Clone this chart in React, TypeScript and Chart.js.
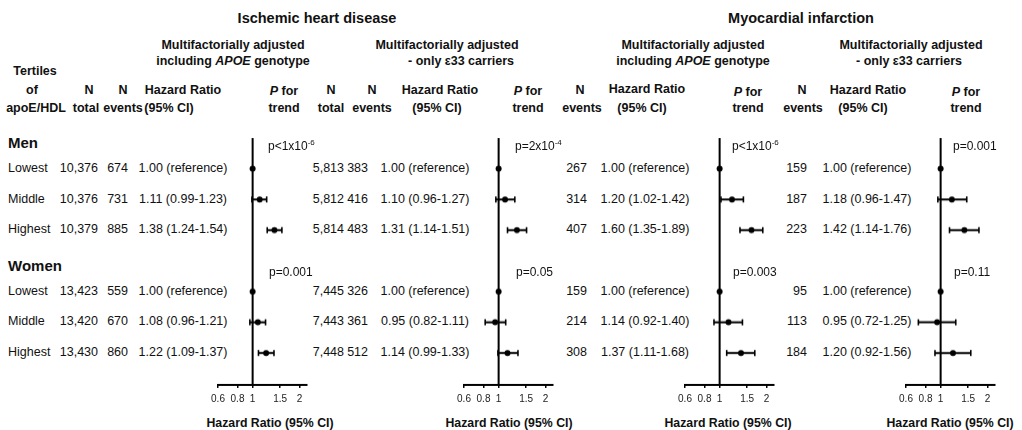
import React, { useEffect, useRef } from "react";
import { Chart, registerables } from "chart.js";

Chart.register(...registerables);

// ---------- data ----------
const TERTILES = ["Lowest", "Middle", "Highest"];
const SEXES = ["Men", "Women"];
const X_TICKS = [0.6, 0.8, 1, 1.5, 2];

// Ischemic heart disease, multifactorially adjusted including APOE genotype
const IHD_ALL_NTOTAL = [10376, 10376, 10379, 13423, 13420, 13430];
const IHD_ALL_NEVENTS = [674, 731, 885, 559, 670, 860];
const IHD_ALL_HR = [1.0, 1.11, 1.38, 1.0, 1.08, 1.22];
const IHD_ALL_LO = [null, 0.99, 1.24, null, 0.96, 1.09];
const IHD_ALL_HI = [null, 1.23, 1.54, null, 1.21, 1.37];
const IHD_ALL_P = ["p<1x10^-6", "p=0.001"];

// Ischemic heart disease, only ε33 carriers
const IHD_E33_NTOTAL = [5813, 5812, 5814, 7445, 7443, 7448];
const IHD_E33_NEVENTS = [383, 416, 483, 326, 361, 512];
const IHD_E33_HR = [1.0, 1.1, 1.31, 1.0, 0.95, 1.14];
const IHD_E33_LO = [null, 0.96, 1.14, null, 0.82, 0.99];
const IHD_E33_HI = [null, 1.27, 1.51, null, 1.11, 1.33];
const IHD_E33_P = ["p=2x10^-4", "p=0.05"];

// Myocardial infarction, multifactorially adjusted including APOE genotype
const MI_ALL_NEVENTS = [267, 314, 407, 159, 214, 308];
const MI_ALL_HR = [1.0, 1.2, 1.6, 1.0, 1.14, 1.37];
const MI_ALL_LO = [null, 1.02, 1.35, null, 0.92, 1.11];
const MI_ALL_HI = [null, 1.42, 1.89, null, 1.4, 1.68];
const MI_ALL_P = ["p<1x10^-6", "p=0.003"];

// Myocardial infarction, only ε33 carriers
const MI_E33_NEVENTS = [159, 187, 223, 95, 113, 184];
const MI_E33_HR = [1.0, 1.18, 1.42, 1.0, 0.95, 1.2];
const MI_E33_LO = [null, 0.96, 1.14, null, 0.72, 0.92];
const MI_E33_HI = [null, 1.47, 1.76, null, 1.25, 1.56];
const MI_E33_P = ["p=0.001", "p=0.11"];

// ---------- layout ----------
const FONT = '"Liberation Sans", Arial, Helvetica, sans-serif';
const ROW0_Y = 169;
const ROW_STEP = 30.67;
const Y_MIN = -1;
const Y_MAX = 7.04;
const X_MIN = 0.6;
const X_MAX = 2.23;
const PAD = 20;
const AXIS_W = 89;
const CANVAS_TOP = 128;
const AREA_TOP_PAD = 10;
const XAXIS_H = 24;
const CANVAS_H = AREA_TOP_PAD + (Y_MAX - Y_MIN) * ROW_STEP + XAXIS_H;

const rowIndex = (i: number) => (i < 3 ? i : i + 1);
const rowY = (i: number) => ROW0_Y + rowIndex(i) * ROW_STEP;
const fmtHR = (hr: number, lo: number | null, hi: number | null) =>
  lo == null || hi == null
    ? "1.00 (reference)"
    : `${hr.toFixed(2)} (${lo.toFixed(2)}-${hi.toFixed(2)})`;

type TxtProps = {
  x: number;
  y: number;
  align?: "left" | "center" | "right";
  size?: number;
  bold?: boolean;
  children: React.ReactNode;
};

function Txt({ x, y, align = "center", size = 12.5, bold = false, children }: TxtProps) {
  const tx = align === "center" ? "-50%" : align === "right" ? "-100%" : "0";
  return (
    <div
      style={{
        position: "absolute",
        left: x,
        top: y,
        transform: `translate(${tx}, -50%)`,
        fontSize: size,
        fontWeight: bold ? 700 : 400,
        lineHeight: 1,
        whiteSpace: "nowrap",
        color: "#111",
      }}
    >
      {children}
    </div>
  );
}

function PText({ s, x, y }: { s: string; x: number; y: number }) {
  const [base, exp] = s.split("^");
  return (
    <Txt x={x} y={y} align="left" size={12}>
      {base}
      {exp && (
        <span style={{ fontSize: 8, position: "relative", top: -5 }}>{exp}</span>
      )}
    </Txt>
  );
}

type PanelProps = {
  axisLeft: number;
  hr: number[];
  lo: (number | null)[];
  hi: (number | null)[];
};

function ForestPanel({ axisLeft, hr, lo, hi }: PanelProps) {
  const ref = useRef<HTMLCanvasElement>(null);
  const width = AXIS_W + 2 * PAD;

  useEffect(() => {
    if (!ref.current) return;
    const points = hr.map((v, i) => ({ x: v, y: rowIndex(i) }));
    const bars: any[] = [];
    hr.forEach((_, i) => {
      const l = lo[i];
      const h = hi[i];
      if (l == null || h == null) return;
      bars.push({
        data: [
          { x: l, y: rowIndex(i) },
          { x: h, y: rowIndex(i) },
        ],
        showLine: true,
        borderColor: "#000",
        borderWidth: 2,
        pointStyle: "line",
        pointRotation: 90,
        pointRadius: 3,
        pointBorderWidth: 1.6,
        pointBorderColor: "#000",
        pointHoverRadius: 3,
      });
    });

    const chart = new Chart(ref.current, {
      type: "scatter",
      data: {
        datasets: [
          {
            data: points,
            pointStyle: "circle",
            pointRadius: 3,
            pointBackgroundColor: "#000",
            pointBorderColor: "#000",
            pointBorderWidth: 0,
            showLine: false,
          },
          ...bars,
          {
            // line of no effect at HR = 1
            data: [
              { x: 1, y: Y_MIN },
              { x: 1, y: Y_MAX },
            ],
            showLine: true,
            borderColor: "#000",
            borderWidth: 2,
            pointRadius: 0,
          },
        ],
      },
      options: {
        animation: false,
        responsive: false,
        devicePixelRatio: 1,
        layout: { padding: { left: PAD, right: PAD, top: AREA_TOP_PAD, bottom: 0 } },
        plugins: { legend: { display: false }, tooltip: { enabled: false } },
        events: [],
        scales: {
          x: {
            type: "logarithmic",
            min: X_MIN,
            max: X_MAX,
            afterBuildTicks: (s: any) => {
              s.ticks = X_TICKS.map((v) => ({ value: v }));
            },
            afterFit: (s: any) => {
              s.height = XAXIS_H;
            },
            ticks: {
              callback: (v: any) => String(v),
              autoSkip: false,
              maxRotation: 0,
              padding: 5,
              color: "#222",
              font: { family: FONT, size: 10 },
            },
            grid: {
              display: true,
              drawOnChartArea: false,
              drawTicks: true,
              tickLength: 3,
              color: "#000",
              lineWidth: 1.5,
            },
            border: { display: true, color: "#000", width: 2 },
          },
          y: {
            type: "linear",
            min: Y_MIN,
            max: Y_MAX,
            reverse: true,
            display: false,
          },
        },
      } as any,
    });
    return () => chart.destroy();
  }, []);

  return (
    <canvas
      ref={ref}
      width={width}
      height={CANVAS_H}
      style={{
        position: "absolute",
        left: axisLeft - PAD,
        top: CANVAS_TOP,
        width,
        height: CANVAS_H,
      }}
    />
  );
}

const AXIS_LEFTS = [218, 464, 685, 906];
const AXIS_TITLE_X = [270, 509, 728, 950];
const P_X = [268, 515, 732, 953];

export default function App() {
  const pSets = [IHD_ALL_P, IHD_E33_P, MI_ALL_P, MI_E33_P];
  return (
    <div
      style={{
        position: "absolute",
        left: 0,
        top: 0,
        width: 1022,
        height: 430,
        background: "#fff",
        fontFamily: FONT,
        overflow: "hidden",
      }}
    >
      {/* outcome titles */}
      <Txt x={317} y={18} size={14.5} bold>Ischemic heart disease</Txt>
      <Txt x={801} y={18} size={14.5} bold>Myocardial infarction</Txt>

      {/* model subtitles */}
      <Txt x={233} y={45} bold>Multifactorially adjusted</Txt>
      <Txt x={233} y={61} bold>including <i>APOE</i> genotype</Txt>
      <Txt x={447} y={45} bold>Multifactorially adjusted</Txt>
      <Txt x={461} y={61} bold>- only ε33 carriers</Txt>
      <Txt x={693} y={45} bold>Multifactorially adjusted</Txt>
      <Txt x={693} y={61} bold>including <i>APOE</i> genotype</Txt>
      <Txt x={911} y={45} bold>Multifactorially adjusted</Txt>
      <Txt x={909} y={61} bold>- only ε33 carriers</Txt>

      {/* column headers */}
      <Txt x={35} y={71} bold>Tertiles</Txt>
      <Txt x={32} y={90} bold>of</Txt>
      <Txt x={36} y={108} bold>apoE/HDL</Txt>

      <Txt x={89} y={90} bold>N</Txt>
      <Txt x={86} y={108} bold>total</Txt>
      <Txt x={123} y={90} bold>N</Txt>
      <Txt x={123} y={108} bold>events</Txt>
      <Txt x={183} y={90} bold>Hazard Ratio</Txt>
      <Txt x={169} y={108} bold>(95% CI)</Txt>
      <Txt x={284} y={91} bold><i>P</i> for</Txt>
      <Txt x={284} y={108} bold>trend</Txt>

      <Txt x={331} y={90} bold>N</Txt>
      <Txt x={331} y={108} bold>total</Txt>
      <Txt x={372} y={90} bold>N</Txt>
      <Txt x={372} y={108} bold>events</Txt>
      <Txt x={440} y={90} bold>Hazard Ratio</Txt>
      <Txt x={437} y={108} bold>(95% CI)</Txt>
      <Txt x={528} y={91} bold><i>P</i> for</Txt>
      <Txt x={528} y={108} bold>trend</Txt>

      <Txt x={580} y={90} bold>N</Txt>
      <Txt x={582} y={108} bold>events</Txt>
      <Txt x={647} y={89} bold>Hazard Ratio</Txt>
      <Txt x={642} y={108} bold>(95% CI)</Txt>
      <Txt x={748} y={92} bold><i>P</i> for</Txt>
      <Txt x={748} y={108} bold>trend</Txt>

      <Txt x={802} y={90} bold>N</Txt>
      <Txt x={803} y={108} bold>events</Txt>
      <Txt x={868} y={90} bold>Hazard Ratio</Txt>
      <Txt x={863} y={108} bold>(95% CI)</Txt>
      <Txt x={966} y={92} bold><i>P</i> for</Txt>
      <Txt x={966} y={108} bold>trend</Txt>

      {/* group headers */}
      {SEXES.map((s, k) => (
        <Txt key={s} x={8} y={ROW0_Y + (k * 4 - 0.88) * ROW_STEP} align="left" size={15} bold>
          {s}
        </Txt>
      ))}

      {/* table rows */}
      {IHD_ALL_HR.map((_, i) => {
        const y = rowY(i) - 1;
        return (
          <React.Fragment key={i}>
            <Txt x={8} y={y} align="left">{TERTILES[i % 3]}</Txt>
            <Txt x={98} y={y} align="right">{IHD_ALL_NTOTAL[i].toLocaleString("en-US")}</Txt>
            <Txt x={128} y={y} align="right">{IHD_ALL_NEVENTS[i]}</Txt>
            <Txt x={183} y={y}>{fmtHR(IHD_ALL_HR[i], IHD_ALL_LO[i], IHD_ALL_HI[i])}</Txt>

            <Txt x={344} y={y} align="right">{IHD_E33_NTOTAL[i].toLocaleString("en-US")}</Txt>
            <Txt x={368} y={y} align="right">{IHD_E33_NEVENTS[i]}</Txt>
            <Txt x={425} y={y}>{fmtHR(IHD_E33_HR[i], IHD_E33_LO[i], IHD_E33_HI[i])}</Txt>

            <Txt x={587} y={y} align="right">{MI_ALL_NEVENTS[i]}</Txt>
            <Txt x={645} y={y}>{fmtHR(MI_ALL_HR[i], MI_ALL_LO[i], MI_ALL_HI[i])}</Txt>

            <Txt x={807} y={y} align="right">{MI_E33_NEVENTS[i]}</Txt>
            <Txt x={867} y={y}>{fmtHR(MI_E33_HR[i], MI_E33_LO[i], MI_E33_HI[i])}</Txt>
          </React.Fragment>
        );
      })}

      {/* forest plots */}
      <ForestPanel axisLeft={AXIS_LEFTS[0]} hr={IHD_ALL_HR} lo={IHD_ALL_LO} hi={IHD_ALL_HI} />
      <ForestPanel axisLeft={AXIS_LEFTS[1]} hr={IHD_E33_HR} lo={IHD_E33_LO} hi={IHD_E33_HI} />
      <ForestPanel axisLeft={AXIS_LEFTS[2]} hr={MI_ALL_HR} lo={MI_ALL_LO} hi={MI_ALL_HI} />
      <ForestPanel axisLeft={AXIS_LEFTS[3]} hr={MI_E33_HR} lo={MI_E33_LO} hi={MI_E33_HI} />

      {/* P for trend */}
      {pSets.map((ps, k) => (
        <React.Fragment key={k}>
          <PText s={ps[0]} x={P_X[k]} y={146} />
          <PText s={ps[1]} x={P_X[k] + 1} y={272} />
        </React.Fragment>
      ))}

      {/* x-axis titles */}
      {AXIS_TITLE_X.map((x, k) => (
        <Txt key={k} x={x} y={423} size={12.3} bold>Hazard Ratio (95% CI)</Txt>
      ))}
    </div>
  );
}
